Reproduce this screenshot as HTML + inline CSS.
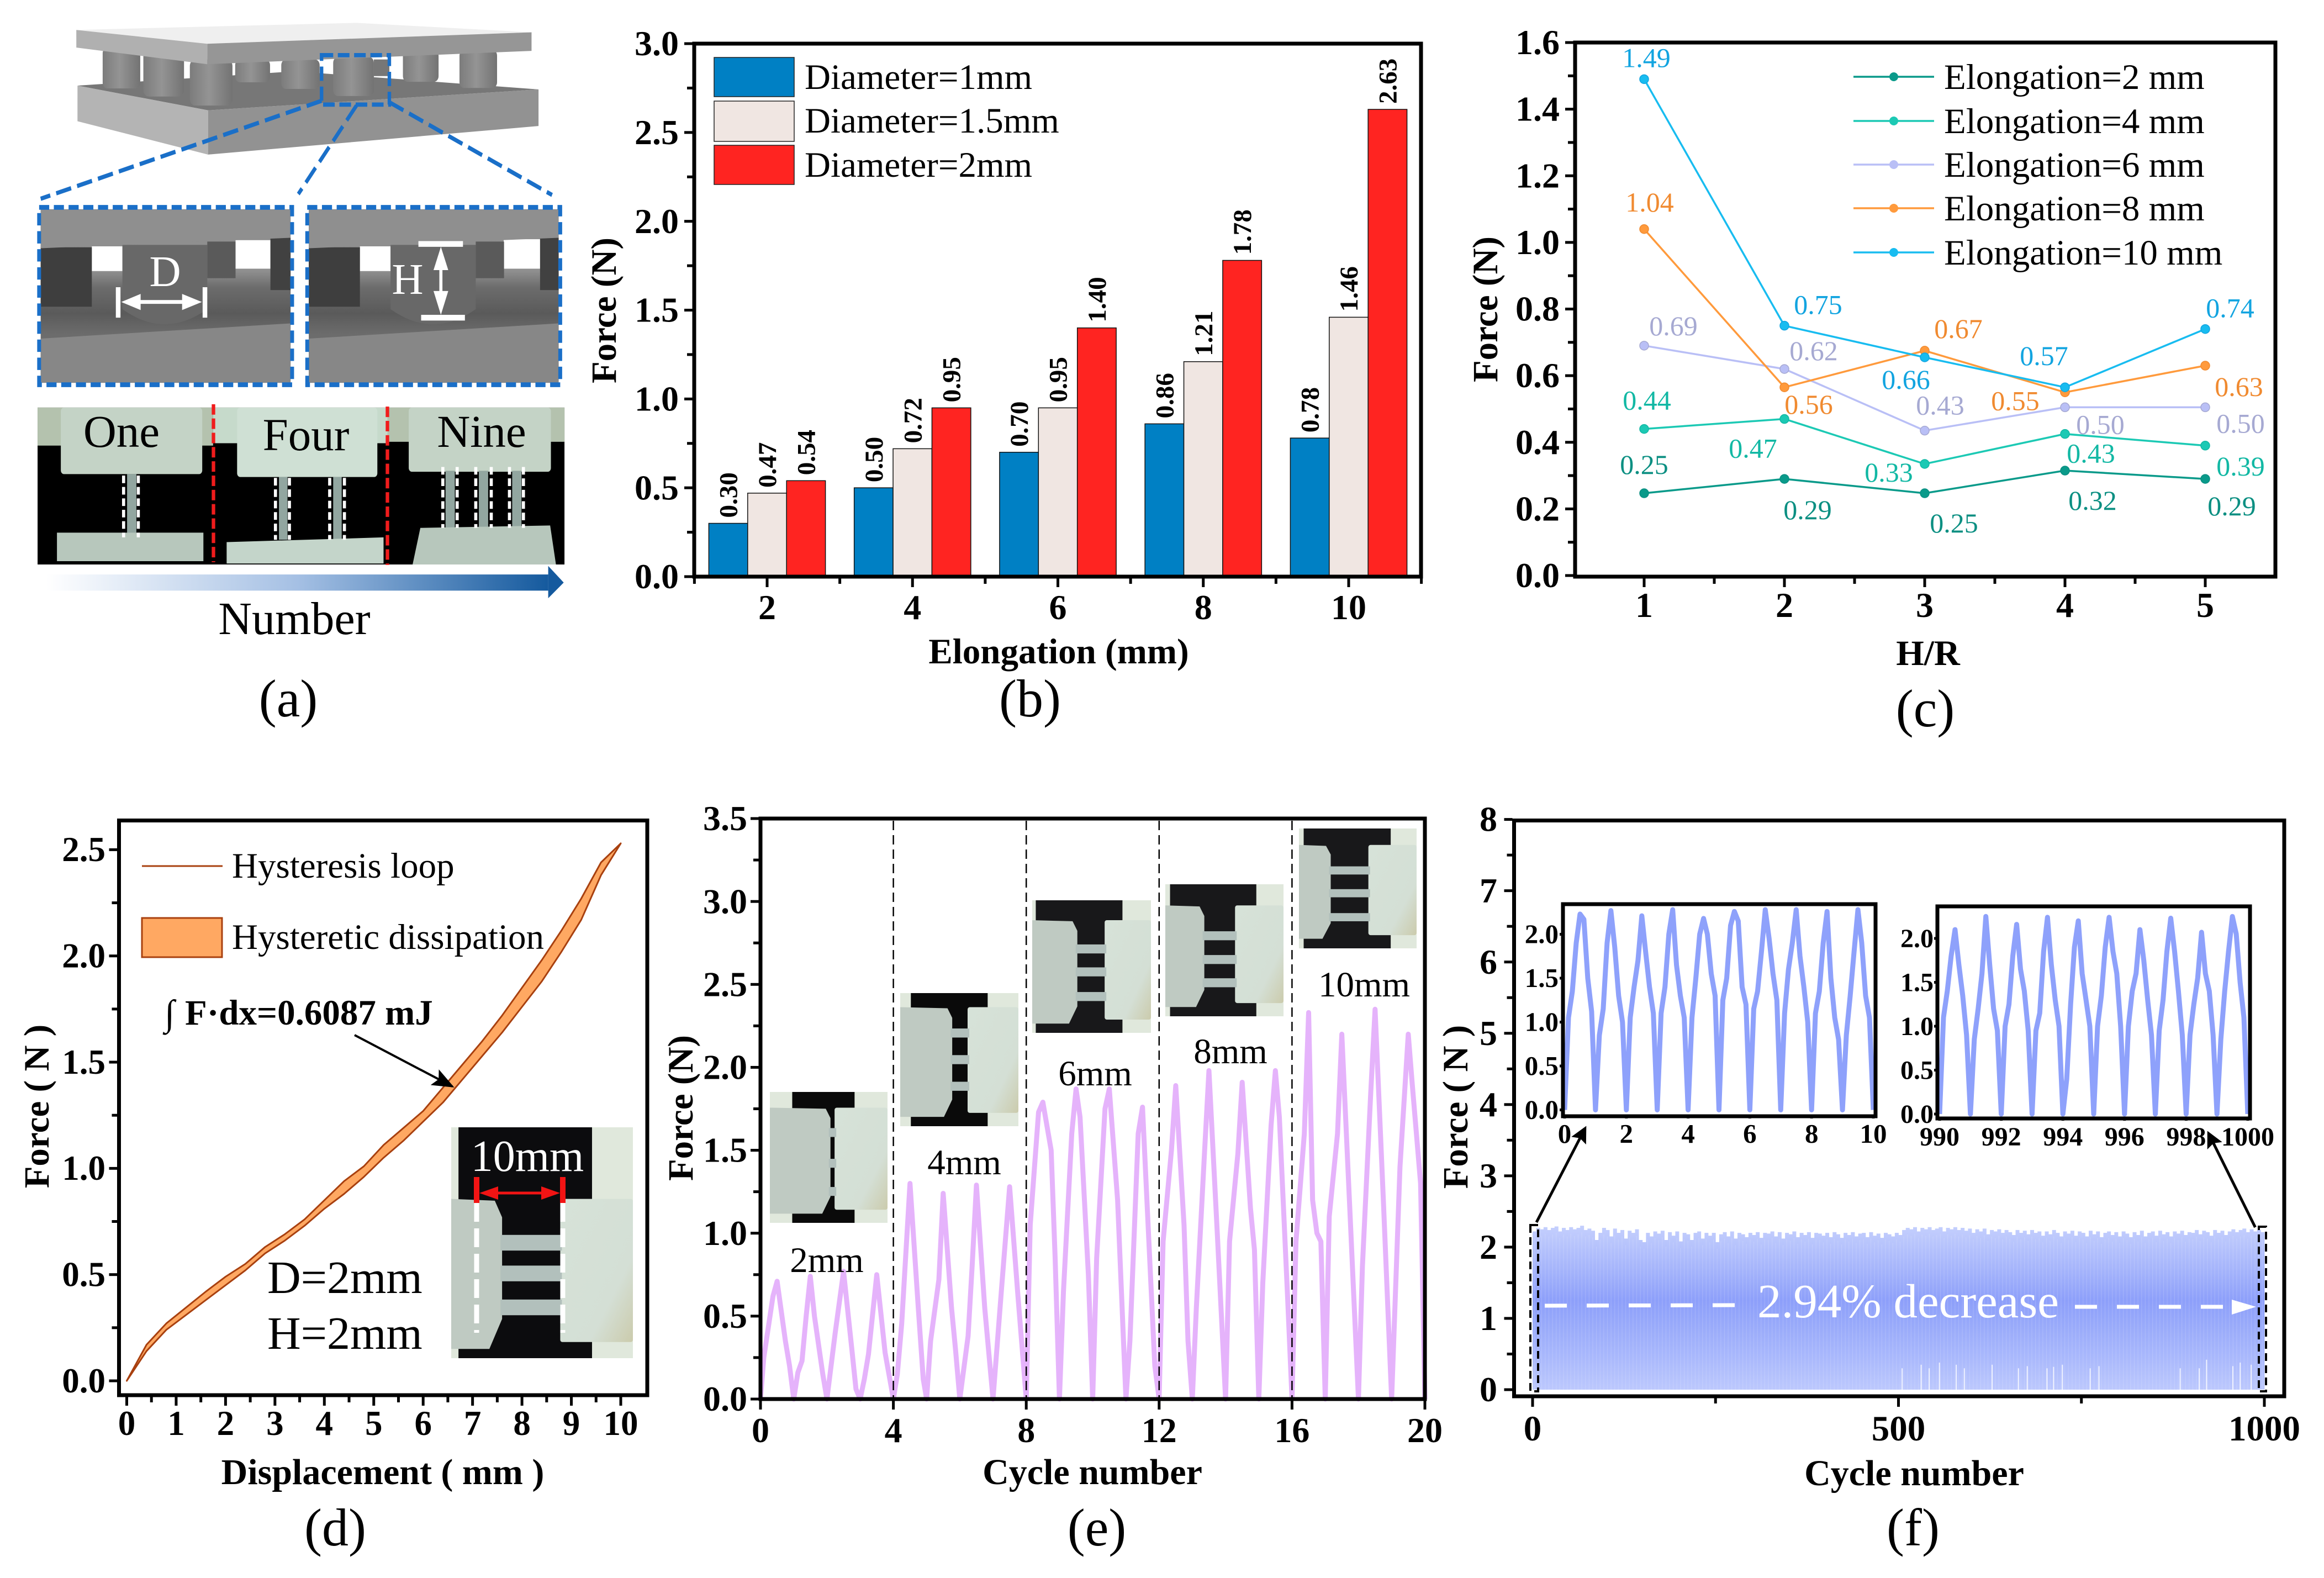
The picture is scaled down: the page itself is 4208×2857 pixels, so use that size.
<!DOCTYPE html>
<html lang="en">
<head>
<meta charset="utf-8">
<title>Force characterization figure</title>
<style>
html,body{margin:0;padding:0;background:#fff;}
svg{display:block;}
text{font-family:"Liberation Serif",serif;fill:#000;}
.b{font-weight:bold;}
</style>
</head>
<body>
<svg id="fig" xmlns="http://www.w3.org/2000/svg" width="4208" height="2857" viewBox="0 0 4208 2857">
<defs>
<marker id="ah" markerWidth="10" markerHeight="8" refX="9" refY="4" orient="auto"><path d="M0 0L10 4L0 8L2 4Z" fill="#000"/></marker>
<marker id="ahBig" markerWidth="6" markerHeight="6" refX="5" refY="3" orient="auto"><path d="M0 0L6 3L0 6L1 3Z" fill="#000"/></marker>
<linearGradient id="cyl" x1="0" x2="1" y1="0" y2="0"><stop offset="0" stop-color="#7c7c7c"/><stop offset=".45" stop-color="#949494"/><stop offset="1" stop-color="#737373"/></linearGradient>
<linearGradient id="dark" x1="0" x2="0" y1="0" y2="1"><stop offset="0" stop-color="#7c7c7c"/><stop offset="1" stop-color="#5e5e5e"/></linearGradient>
<linearGradient id="floor" x1="0" x2="0" y1="0" y2="1"><stop offset=".356" stop-color="#8f8f8f"/><stop offset=".45" stop-color="#6c6c6c"/><stop offset=".6" stop-color="#5a5a5a"/><stop offset=".72" stop-color="#6c6c6c"/></linearGradient>
<linearGradient id="numArrow" x1="0" x2="1" y1="0" y2="0"><stop offset="0" stop-color="#fff"/><stop offset=".5" stop-color="#a5c0e4"/><stop offset="1" stop-color="#155a9e"/></linearGradient>
<linearGradient id="bandGrad" gradientUnits="userSpaceOnUse" x1="0" x2="0" y1="2223" y2="2516">
<stop offset="0" stop-color="#c3cefd"/><stop offset=".25" stop-color="#a6b5fb"/><stop offset=".45" stop-color="#8d9ffa"/><stop offset=".62" stop-color="#9aabfa"/><stop offset=".8" stop-color="#a9b8fc"/><stop offset="1" stop-color="#bcc8fd"/>
</linearGradient>
<linearGradient id="blockR" x1="0" x2="1" y1="0" y2="1"><stop offset="0" stop-color="#d6e2d8"/><stop offset=".7" stop-color="#d4dfd5"/><stop offset="1" stop-color="#cbcbac"/></linearGradient>
</defs>

<!-- Panel a -->
<g>
 <g transform="scale(.7015,.861)">
  <polygon points="200,180 760,150 1390,188 537,232" fill="#777"/>
  <polygon points="200,180 537,232 537,325 200,255" fill="#b4b4b4"/>
  <polygon points="537,232 1390,188 1390,265 537,325" fill="#929292"/>
  <g fill="url(#cyl)">
   <rect x="607" y="125" width="90" height="48" rx="12"/><rect x="726" y="125" width="99" height="62" rx="12"/>
   <rect x="965" y="125" width="40" height="35" fill="#777"/><rect x="1040" y="105" width="92" height="67" rx="12"/>
   <rect x="1186" y="105" width="97" height="80" rx="12"/><rect x="860" y="120" width="105" height="82" rx="12"/>
   <rect x="265" y="100" width="97" height="86" rx="12"/><rect x="370" y="105" width="105" height="98" rx="14"/>
   <rect x="490" y="125" width="110" height="97" rx="14"/>
  </g>
  <polygon points="197,63 920,48 1372,68 535,92" fill="#efefef"/>
  <polygon points="197,63 535,92 535,135 197,100" fill="#b0b0b0"/>
  <polygon points="535,92 1372,68 1372,107 535,135" fill="#969696"/>
  <rect x="830" y="116" width="175" height="104" fill="none" stroke="#1a6fc8" stroke-width="9" stroke-dasharray="30 12"/>
  <g stroke="#1a6fc8" stroke-width="9" stroke-dasharray="40 16" fill="none">
   <line x1="830" y1="212" x2="105" y2="418"/><line x1="920" y1="222" x2="770" y2="408"/><line x1="1005" y1="215" x2="1425" y2="410"/>
  </g>
  <g>
   <rect x="105" y="440" width="645" height="365" fill="url(#floor)"/>
   <rect x="237" y="518" width="79" height="52" fill="#fff"/><rect x="608" y="505" width="90" height="60" fill="#fff"/>
   <rect x="105" y="520" width="132" height="125" fill="#3e3e3e"/><rect x="535" y="508" width="73" height="77" fill="#5a5a5a"/><rect x="698" y="500" width="52" height="110" fill="#414141"/>
   <path d="M316 515H535V650Q425 714 316 650Z" fill="#686868"/>
   <polygon points="105,440 750,440 750,500 105,522" fill="#8f8f8f"/><polygon points="105,712 750,680 750,805 105,805" fill="#878787"/>
   <rect x="101" y="436" width="653" height="373" fill="none" stroke="#1a6fc8" stroke-width="10" stroke-dasharray="26 12"/>
   <g stroke="#fff" stroke-width="12" fill="#fff"><line x1="305" y1="604" x2="305" y2="668"/><line x1="529" y1="604" x2="529" y2="668"/></g>
   <line x1="340" y1="635" x2="495" y2="635" stroke="#fff" stroke-width="8"/>
   <polygon points="313,635 363,618 363,652" fill="#fff"/><polygon points="521,635 470,618 470,652" fill="#fff"/>
  </g>
  <g>
   <rect x="797" y="440" width="645" height="365" fill="url(#floor)"/>
   <rect x="929" y="518" width="79" height="52" fill="#fff"/><rect x="1300" y="503" width="94" height="62" fill="#fff"/>
   <rect x="797" y="520" width="132" height="125" fill="#3e3e3e"/><rect x="1228" y="508" width="73" height="77" fill="#5a5a5a"/><rect x="1394" y="500" width="48" height="110" fill="#414141"/>
   <path d="M1008 515H1228V650Q1118 714 1008 650Z" fill="#686868"/>
   <polygon points="797,440 1442,440 1442,500 797,522" fill="#8f8f8f"/><polygon points="797,712 1442,680 1442,805 797,805" fill="#878787"/>
   <rect x="793" y="436" width="653" height="373" fill="none" stroke="#1a6fc8" stroke-width="10" stroke-dasharray="26 12"/>
   <g stroke="#fff" stroke-width="12"><line x1="1080" y1="513" x2="1195" y2="513"/><line x1="1087" y1="668" x2="1200" y2="668"/></g>
   <line x1="1138" y1="550" x2="1138" y2="630" stroke="#fff" stroke-width="8"/>
   <polygon points="1138,519 1119,568 1157,568" fill="#fff"/><polygon points="1138,662 1119,612 1157,612" fill="#fff"/>
  </g>
  <g>
   <rect x="97" y="857" width="1360" height="330" fill="#000"/>
   <rect x="97" y="857" width="453" height="80" fill="#b4c2ae"/><rect x="550" y="857" width="450" height="75" fill="#c6dacb"/><rect x="1000" y="857" width="457" height="72" fill="#b4c2ae"/>
   <rect x="157" y="857" width="365" height="140" rx="8" fill="#c4d3c6"/><rect x="612" y="857" width="362" height="146" rx="8" fill="#cfe0d4"/><rect x="1055" y="857" width="367" height="135" rx="8" fill="#c4d3c6"/>
   <rect x="328" y="997" width="24" height="130" fill="#92a6a0"/>
   <rect x="720" y="1003" width="22" height="132" fill="#92a6a0"/><rect x="860" y="1003" width="22" height="132" fill="#92a6a0"/>
   <rect x="1150" y="990" width="24" height="125" fill="#92a6a0"/><rect x="1236" y="990" width="24" height="125" fill="#92a6a0"/><rect x="1322" y="990" width="24" height="125" fill="#92a6a0"/>
   <path d="M147 1120L525 1120V1180H147Z" fill="#b7c7bc"/>
   <path d="M585 1140L990 1130V1185H585Z" fill="#c4d5ca"/>
   <path d="M1085 1110L1420 1105L1435 1187H1065Z" fill="#b7c7bc"/>
   <g stroke="#fff" stroke-width="8" stroke-dasharray="16 8" fill="none">
    <line x1="319" y1="1000" x2="319" y2="1130"/><line x1="357" y1="1000" x2="357" y2="1130"/>
    <line x1="711" y1="1005" x2="711" y2="1135"/><line x1="747" y1="1005" x2="747" y2="1135"/><line x1="851" y1="1005" x2="851" y2="1135"/><line x1="889" y1="1005" x2="889" y2="1135"/>
    <line x1="1143" y1="982" x2="1143" y2="1110"/><line x1="1180" y1="982" x2="1180" y2="1110"/><line x1="1228" y1="982" x2="1228" y2="1110"/><line x1="1268" y1="982" x2="1268" y2="1110"/><line x1="1315" y1="982" x2="1315" y2="1110"/><line x1="1351" y1="982" x2="1351" y2="1110"/>
   </g>
   <g stroke="#f01c1c" stroke-width="9" stroke-dasharray="22 8"><line x1="551" y1="850" x2="551" y2="1182"/><line x1="1000" y1="855" x2="1000" y2="1188"/></g>
  </g>
  <rect x="120" y="1208" width="1295" height="34" fill="url(#numArrow)"/>
  <polygon points="1415,1190 1455,1225 1415,1258" fill="#155a9e"/>
 </g>
 <text x="299" y="518" font-size="79" text-anchor="middle" style="fill:#fff">D</text>
 <text x="738" y="532" font-size="79" text-anchor="middle" style="fill:#fff">H</text>
 <text x="220" y="809" font-size="83" text-anchor="middle">One</text>
 <text x="554" y="815" font-size="83" text-anchor="middle">Four</text>
 <text x="872" y="809" font-size="83" text-anchor="middle">Nine</text>
 <text x="533" y="1148" font-size="84" text-anchor="middle">Number</text>
 <text x="522" y="1297" font-size="96" text-anchor="middle">(a)</text>
</g>

<!-- Panel titles and fixed text -->
<g>
 <text class="b" font-size="65" text-anchor="middle" transform="translate(1115,562) rotate(-90)">Force (N)</text>
 <text class="b" font-size="65" x="1917" y="1201" text-anchor="middle">Elongation (mm)</text>
 <text font-size="96" x="1865" y="1297" text-anchor="middle">(b)</text>
</g>
<g>
 <text class="b" font-size="65" text-anchor="middle" transform="translate(2711,560) rotate(-90)">Force (N)</text>
 <text class="b" font-size="65" x="3491" y="1204" text-anchor="middle">H/R</text>
 <text font-size="96" x="3486" y="1315" text-anchor="middle">(c)</text>
</g>
<g>
 <text class="b" font-size="65" text-anchor="middle" transform="translate(88,2003) rotate(-90)">Force ( N )</text>
 <text class="b" font-size="66" x="693" y="2687" text-anchor="middle">Displacement ( mm )</text>
 <text font-size="96" x="607" y="2798" text-anchor="middle">(d)</text>
</g>
<g>
 <text class="b" font-size="65" text-anchor="middle" transform="translate(1254,2006) rotate(-90)">Force (N)</text>
 <text class="b" font-size="66" x="1978" y="2687" text-anchor="middle">Cycle number</text>
 <text font-size="96" x="1986" y="2798" text-anchor="middle">(e)</text>
</g>
<g>
 <text class="b" font-size="65" text-anchor="middle" transform="translate(2657,2004) rotate(-90)">Force ( N )</text>
 <text class="b" font-size="66" x="3466" y="2689" text-anchor="middle">Cycle number</text>
 <text font-size="96" x="3464" y="2798" text-anchor="middle">(f)</text>
</g>
<g id="charts"></g>
</svg>

<script>
/* ---------- chart b data ---------- */
const barCategories = [2, 4, 6, 8, 10];
const barSeriesNames = ['Diameter=1mm', 'Diameter=1.5mm', 'Diameter=2mm'];
const barDiameter1 = [0.30, 0.50, 0.70, 0.86, 0.78];
const barDiameter15 = [0.47, 0.72, 0.95, 1.21, 1.46];
const barDiameter2 = [0.54, 0.95, 1.40, 1.78, 2.63];
const barYTicks = [0, 0.5, 1, 1.5, 2, 2.5, 3];

/* ---------- chart c data ---------- */
const lineCategories = [1, 2, 3, 4, 5];
const lineNames = ['Elongation=2 mm', 'Elongation=4 mm', 'Elongation=6 mm', 'Elongation=8 mm', 'Elongation=10 mm'];
const lineE2 = [0.247, 0.29, 0.247, 0.315, 0.29];
const lineE4 = [0.44, 0.47, 0.335, 0.425, 0.39];
const lineE6 = [0.69, 0.62, 0.435, 0.505, 0.505];
const lineE8 = [1.04, 0.565, 0.675, 0.55, 0.63];
const lineE10 = [1.49, 0.75, 0.655, 0.565, 0.74];
const printedE2 = ['0.25', '0.29', '0.25', '0.32', '0.29'];
const printedE4 = ['0.44', '0.47', '0.33', '0.43', '0.39'];
const printedE6 = ['0.69', '0.62', '0.43', '0.50', '0.50'];
const printedE8 = ['1.04', '0.56', '0.67', '0.55', '0.63'];
const printedE10 = ['1.49', '0.75', '0.66', '0.57', '0.74'];
const lineYTicks = [0, 0.2, 0.4, 0.6, 0.8, 1.0, 1.2, 1.4, 1.6];

/* ---------- chart d data ---------- */
const loopX = [0, 0.4, 0.8, 1.2, 1.6, 2, 2.4, 2.8, 3.2, 3.6, 4, 4.4, 4.8, 5.2, 5.6, 6, 6.4, 6.8, 7.2, 7.6, 8, 8.4, 8.8, 9.2, 9.6, 10];
const loopUpper = [0, 0.17, 0.27, 0.345, 0.42, 0.49, 0.55, 0.63, 0.69, 0.76, 0.85, 0.94, 1.01, 1.11, 1.19, 1.27, 1.38, 1.49, 1.6, 1.72, 1.85, 1.98, 2.12, 2.27, 2.44, 2.53];
const loopLower = [0, 0.14, 0.24, 0.31, 0.38, 0.45, 0.52, 0.60, 0.66, 0.73, 0.81, 0.88, 0.96, 1.05, 1.13, 1.22, 1.31, 1.42, 1.53, 1.64, 1.76, 1.88, 2.02, 2.17, 2.38, 2.53];
const loopXTicks = [0, 1, 2, 3, 4, 5, 6, 7, 8, 9, 10];
const loopYTicks = [0, 0.5, 1, 1.5, 2, 2.5];

/* ---------- chart e data ---------- */
const cycleX = [0,.1,.375,.5,.75,.875,1,1.125,1.25,1.375,1.5,1.625,1.875,2,2.25,2.5,2.75,2.875,3,3.125,3.25,3.5,3.75,4,
 4.12,4.25,4.5,4.75,4.9,5,5.12,5.37,5.5,5.75,5.87,6,6.25,6.37,6.5,6.75,7,7.25,7.5,7.75,8,
 8.12,8.37,8.5,8.75,8.87,9,9.12,9.37,9.5,9.62,9.87,10,10.12,10.37,10.5,10.75,11,11.12,11.37,11.5,11.75,11.87,12,
 12.12,12.37,12.5,12.75,12.87,13,13.12,13.37,13.5,13.75,14,14.12,14.37,14.5,14.75,14.87,15,15.12,15.37,15.5,15.62,15.87,16,
 16.12,16.37,16.5,16.62,16.75,16.87,17,17.12,17.37,17.5,17.75,18,18.12,18.37,18.5,18.75,19,19.25,19.5,19.62,19.87,20];
const cycleForce = [0,.25,.62,.71,.35,.2,0,.16,.23,.5,.74,.5,.15,0,.4,.77,.3,.06,0,.12,.27,.75,.28,0,
 .15,.45,1.3,.55,.12,0,.35,.72,1.24,.55,.3,0,.38,.8,1.29,.55,0,.65,1.28,.62,0,
 1.05,1.73,1.79,1.5,.85,0,.65,1.6,1.87,1.7,.75,0,.85,1.75,1.87,1.2,0,.35,1.6,1.76,.7,.2,0,
 .95,1.5,1.89,1.05,.35,0,.55,1.5,1.98,1.0,0,.95,1.48,1.91,1.15,.9,0,.7,1.65,1.98,1.7,.6,0,
 .95,1.6,2.33,1.2,1.0,.95,0,1.1,1.6,2.2,1.1,0,.8,1.85,2.35,1.2,0,1.4,2.2,1.9,1.3,0];
const cycleXTicks = [0, 4, 8, 12, 16, 20];
const cycleYTicks = [0, 0.5, 1, 1.5, 2, 2.5, 3, 3.5];
const stageBoundaries = [4, 8, 12, 16];

/* ---------- chart f data ---------- */
const fatigueBinCycles = 5;
const fatiguePeaks = [
2.22,2.27,2.25,2.28,2.24,2.27,2.29,2.22,2.27,2.24,2.28,2.25,2.27,2.3,2.24,2.26,2.23,2.1,2.2,2.27,
2.24,2.15,2.26,2.2,2.24,2.12,2.23,2.2,2.25,2.1,2.07,2.2,2.15,2.22,2.19,2.23,2.1,2.21,2.16,2.22,
2.08,2.2,2.18,2.1,2.2,2.22,2.12,2.2,2.16,2.2,2.07,2.18,2.21,2.15,2.22,2.12,2.2,2.18,2.14,2.2,
2.17,2.21,2.13,2.2,2.19,2.22,2.15,2.21,2.12,2.2,2.18,2.22,2.14,2.2,2.17,2.21,2.13,2.2,2.19,2.16,
2.2,2.14,2.21,2.18,2.13,2.2,2.17,2.21,2.15,2.19,2.2,2.14,2.21,2.16,2.19,2.13,2.2,2.18,2.15,2.2,
2.17,2.24,2.27,2.25,2.28,2.22,2.27,2.25,2.28,2.24,2.26,2.28,2.22,2.27,2.25,2.28,2.24,2.27,2.23,2.26,
2.2,2.25,2.22,2.26,2.18,2.24,2.22,2.25,2.2,2.24,2.21,2.17,2.24,2.2,2.23,2.18,2.24,2.2,2.22,2.16,
2.22,2.18,2.24,2.2,2.15,2.22,2.19,2.23,2.16,2.22,2.2,2.15,2.23,2.18,2.22,2.14,2.2,2.22,2.17,2.21,
2.15,2.22,2.19,2.14,2.21,2.17,2.23,2.15,2.2,2.22,2.16,2.23,2.18,2.21,2.15,2.22,2.19,2.23,2.17,2.21,
2.2,2.24,2.18,2.23,2.21,2.16,2.24,2.2,2.23,2.17,2.22,2.25,2.21,2.24,2.26,2.21,2.25,2.22,2.24,2.21];
const fatigueGapCycles = [505,531,542,556,579,590,628,664,676,703,712,724,762,774,885,911,921,957,967,982];
const fatigueGapTop = [.3,.35,.3,.38,.35,.3,.35,.3,.33,.3,.32,.35,.3,.33,.3,.3,.42,.33,.38,.35];
const fatigueXTicks = [0, 500, 1000];
const fatigueYTicks = [0, 1, 2, 3, 4, 5, 6, 7, 8];
const insetStartForce = [
0,1.05,1.35,1.9,2.23,2.17,1.5,1.12,
0,.85,1.15,1.9,2.27,1.85,1.3,1.0,
0,1.05,1.4,1.7,2.21,1.8,1.4,1.1,
0,1.1,1.4,2.0,2.28,1.65,1.3,1.05,
0,1.05,1.5,2.0,2.18,2.0,1.55,1.3,
0,1.25,1.5,2.1,2.26,2.15,1.4,1.2,
0,1.15,1.35,1.8,2.28,1.95,1.55,1.25,
0,1.1,1.6,1.9,2.28,1.75,1.4,1.0,
0,1.1,1.35,1.9,2.26,1.5,1.05,.8,
0,.85,1.3,1.8,2.28,1.9,1.3,1.05,0];
const insetEndForce = [
0,1.1,1.4,1.8,2.1,1.7,1.35,.9,
0,.85,1.2,1.6,2.25,1.7,1.2,.95,
0,1.0,1.25,1.8,2.16,1.65,1.4,.95,
0,.95,1.15,1.85,2.24,1.7,1.3,1.0,
0,.4,1.25,1.9,2.2,1.6,1.3,1.0,
0,1.0,1.35,1.9,2.24,1.85,1.6,1.0,
0,1.0,1.4,1.6,2.1,1.75,1.3,.9,
0,.95,1.3,1.85,2.23,1.85,1.4,.9,
0,.9,1.25,1.55,2.07,1.6,1.4,.9,
0,.85,1.4,1.85,2.25,2.05,1.5,1.1,0];
const insetStep = 0.125;
const insetStartXTicks = [0, 2, 4, 6, 8, 10];
const insetEndXTicks = [990, 992, 994, 996, 998, 1000];
const insetYTicks = [0, 0.5, 1, 1.5, 2];

/* ---------- helpers ---------- */
const NS = 'http://www.w3.org/2000/svg';
const root = document.getElementById('charts');
function make(parent, tag, attrs, text) {
  const el = document.createElementNS(NS, tag);
  for (const k in attrs) el.setAttribute(k, attrs[k]);
  if (text !== undefined) el.textContent = text;
  parent.appendChild(el);
  return el;
}
function named(el, name) {
  
  
  return el;
}
function group(parent, name) { return named(make(parent, 'g', {}), name); }
function linear(d0, d1, r0, r1) { return v => r0 + (v - d0) * (r1 - r0) / (d1 - d0); }
function range(a, b, s) { const o = []; for (let i = 0; a + i * s <= b + 1e-9; i++) o.push(a + i * s); return o; }

function drawFrame(g, prefix, box, sw) {
  named(make(g, 'rect', {x: box.l, y: box.t, width: box.r - box.l, height: box.b - box.t, fill: 'none', stroke: '#000', 'stroke-width': sw}), prefix + '-frame');
}
function drawYAxis(g, prefix, o) {
  const ax = group(g, prefix + '-y-axis');
  (o.minor || []).forEach(v => {
    named(make(ax, 'line', {x1: o.x, x2: o.x - 10, y1: o.y(v), y2: o.y(v), stroke: '#000', 'stroke-width': 5}), prefix + '-y-minor-tick');
  });
  o.ticks.forEach(v => {
    named(make(ax, 'line', {x1: o.x, x2: o.x - (o.len || 15), y1: o.y(v), y2: o.y(v), stroke: '#000', 'stroke-width': 5}), prefix + '-y-tick');
    named(make(ax, 'text', {x: o.labelX, y: o.y(v) + o.size * 0.33, 'font-size': o.size, 'text-anchor': 'end', 'font-weight': 'bold'}, o.fmt(v)), prefix + '-y-tick-label');
  });
}
function drawXAxis(g, prefix, o) {
  const ax = group(g, prefix + '-x-axis');
  (o.minor || []).forEach(v => {
    named(make(ax, 'line', {x1: o.x(v), x2: o.x(v), y1: o.y, y2: o.y + 10, stroke: '#000', 'stroke-width': 5}), prefix + '-x-minor-tick');
  });
  o.ticks.forEach(v => {
    named(make(ax, 'line', {x1: o.x(v), x2: o.x(v), y1: o.y, y2: o.y + (o.len || 16), stroke: '#000', 'stroke-width': 5}), prefix + '-x-tick');
    named(make(ax, 'text', {x: o.x(v), y: o.labelY, 'font-size': o.size, 'text-anchor': 'middle', 'font-weight': 'bold'}, String(v)), prefix + '-x-tick-label');
  });
}
function toPoints(xs, ys, fx, fy) { return xs.map((v, i) => fx(v).toFixed(1) + ',' + fy(ys[i]).toFixed(1)).join(' '); }

function drawPhoto(parent, name, x, y, w, h, p) {
  const g = group(parent, name);
  make(g, 'rect', {x: x, y: y, width: w, height: h, fill: '#e0e8dc'});
  const bx0 = x + w * (p.blackL || 0.04), bx1 = x + w * (p.blackR || 0.76);
  make(g, 'rect', {x: bx0, y: y, width: bx1 - bx0, height: h, fill: p.black || '#141416'});
  const lx = x + w * p.leftEnd, rx = x + w * p.rightStart;
  const yT = y + h * p.top, yB = y + h * p.bottom;
  make(g, 'path', {d: 'M' + x + ' ' + yT + 'L' + (lx - w * 0.04) + ' ' + (yT + h * 0.008) + 'L' + lx + ' ' + (yT + h * 0.08) + 'L' + lx + ' ' + (yB - h * 0.13) + 'L' + (lx - w * 0.07) + ' ' + yB + 'L' + x + ' ' + yB + 'Z', fill: '#bfcac2'});
  make(g, 'rect', {x: rx, y: yT, width: x + w - rx, height: h * (p.bottom - 0.03 - p.top), rx: 4, fill: 'url(#blockR)'});
  p.struts.forEach(s => {
    make(g, 'rect', {x: lx - 3, y: y + h * (s - 0.034), width: rx - lx + 6, height: h * 0.068, fill: '#b2c0bc'});
  });
  return g;
}

/* ---------- chart b ---------- */
(function () {
  const g = group(root, 'panel-b');
  const box = {l: 1257, r: 2573, t: 79, b: 1044};
  const x = linear(2, 10, 1389, 2442), y = linear(0, 3, 1044, 79);
  const bw = 70.4;
  const series = [barDiameter1, barDiameter15, barDiameter2];
  const colors = ['#0080c4', '#f0e6e2', '#ff2421'];
  series.forEach((vals, s) => {
    const sg = group(g, 'series-' + barSeriesNames[s].toLowerCase().replace(/[^a-z0-9]+/g, '-'));
    vals.forEach((v, i) => {
      const cx = x(barCategories[i]) + (s - 1) * bw;
      named(make(sg, 'rect', {x: cx - bw / 2, y: y(v), width: bw, height: y(0) - y(v) - 2, fill: colors[s], stroke: '#111', 'stroke-width': 1.5}), 'bar');
      named(make(sg, 'text', {'font-size': 47, 'font-weight': 'bold', transform: 'translate(' + (cx + 16) + ',' + (y(v) - 10) + ') rotate(-90)'}, v.toFixed(2)), 'bar-value-label');
    });
  });
  drawFrame(g, 'b', box, 7);
  drawYAxis(g, 'b', {x: box.l - 3, y: y, ticks: barYTicks, minor: range(0.25, 2.75, 0.5), labelX: 1229, size: 64, fmt: v => v.toFixed(1)});
  drawXAxis(g, 'b', {x: x, y: box.b + 3, ticks: barCategories, minor: [1, 3, 5, 7, 9, 11], labelY: 1121, size: 64});
  const leg = group(g, 'b-legend');
  const ly = [104, 183, 263], lh = [71, 73, 71];
  barSeriesNames.forEach((n, i) => {
    named(make(leg, 'rect', {x: 1293, y: ly[i], width: 145, height: lh[i], fill: colors[i], stroke: '#222', 'stroke-width': 1.5}), 'legend-swatch');
    named(make(leg, 'text', {x: 1457, y: ly[i] + 57, 'font-size': 65}, n), 'legend-entry');
  });
})();

/* ---------- chart c ---------- */
(function () {
  const g = group(root, 'panel-c');
  const box = {l: 2852, r: 4120, t: 77, b: 1044};
  const x = linear(1, 5, 2977, 3993), y = linear(0, 1.6, 1042, 77);
  const series = [lineE2, lineE4, lineE6, lineE8, lineE10];
  const printed = [printedE2, printedE4, printedE6, printedE8, printedE10];
  const colors = ['#0a9a8a', '#1cc9b4', '#b9bff6', '#ff9a3c', '#18bcf0'];
  const labelColors = ['#0b8f82', '#12b8a4', '#a6a9d2', '#f08a30', '#12a4e0'];
  const offsets = [
    [[0,-52],[42,56],[53,54],[50,54],[48,49]],
    [[5,-52],[-57,53],[-65,15],[47,35],[64,37]],
    [[53,-36],[53,-33],[28,-46],[64,31],[64,29]],
    [[10,-49],[44,31],[61,-40],[-90,15],[61,38]],
    [[4,-39],[61,-38],[-34,40],[-38,-57],[45,-38]]
  ];
  series.forEach((vals, s) => {
    const sg = group(g, 'series-elongation-' + (s + 1) * 2 + 'mm');
    named(make(sg, 'polyline', {points: toPoints(lineCategories, vals, x, y), fill: 'none', stroke: colors[s], 'stroke-width': 3.5}), 'series-line');
    vals.forEach((v, i) => {
      named(make(sg, 'circle', {cx: x(lineCategories[i]), cy: y(v), r: 8, fill: colors[s], stroke: labelColors[s], 'stroke-width': 1.5}), 'series-point');
      const off = offsets[s][i];
      named(make(sg, 'text', {x: x(lineCategories[i]) + off[0], y: y(v) + off[1] + 17, 'font-size': 50, 'text-anchor': 'middle', style: 'fill:' + labelColors[s]}, printed[s][i]), 'point-value-label');
    });
  });
  drawFrame(g, 'c', box, 7);
  drawYAxis(g, 'c', {x: box.l - 3, y: y, ticks: lineYTicks, minor: range(0.1, 1.5, 0.2), labelX: 2824, size: 64, fmt: v => v.toFixed(1)});
  drawXAxis(g, 'c', {x: x, y: box.b + 3, ticks: lineCategories, minor: [1.5, 2.5, 3.5, 4.5], labelY: 1117, size: 64});
  const leg = group(g, 'c-legend');
  const ly = [139, 219, 298, 377, 457];
  lineNames.forEach((n, i) => {
    named(make(leg, 'line', {x1: 3356, x2: 3502, y1: ly[i], y2: ly[i], stroke: colors[i], 'stroke-width': 3.5}), 'legend-line');
    named(make(leg, 'circle', {cx: 3429, cy: ly[i], r: 8, fill: colors[i]}), 'legend-marker');
    named(make(leg, 'text', {x: 3520, y: ly[i] + 22, 'font-size': 65}, n), 'legend-entry');
  });
})();

/* ---------- chart d ---------- */
(function () {
  const g = group(root, 'panel-d');
  const box = {l: 215.5, r: 1172, t: 1485.5, b: 2526};
  const x = linear(0, 10, 229.5, 1124), y = linear(0, 2.5, 2500, 1538.4);
  const up = toPoints(loopX, loopUpper, x, y);
  const low = toPoints(loopX.slice().reverse(), loopLower.slice().reverse(), x, y);
  named(make(g, 'polygon', {points: up + ' ' + low, fill: '#ffa862', stroke: '#a8400f', 'stroke-width': 3, 'stroke-linejoin': 'round'}), 'hysteresis-loop');
  drawFrame(g, 'd', box, 7);
  drawYAxis(g, 'd', {x: box.l - 3, y: y, ticks: loopYTicks, minor: range(0.25, 2.25, 0.5), labelX: 191, size: 63, fmt: v => v.toFixed(1)});
  drawXAxis(g, 'd', {x: x, y: box.b + 3, ticks: loopXTicks, minor: range(0.5, 9.5, 1), labelY: 2598, size: 63});
  const leg = group(g, 'd-legend');
  named(make(leg, 'line', {x1: 257, x2: 403, y1: 1568, y2: 1568, stroke: '#a8400f', 'stroke-width': 3}), 'legend-line');
  named(make(leg, 'text', {x: 420, y: 1589, 'font-size': 65}, 'Hysteresis loop'), 'legend-entry');
  named(make(leg, 'rect', {x: 257, y: 1662, width: 145, height: 71, fill: '#ffa862', stroke: '#a8400f', 'stroke-width': 3}), 'legend-swatch');
  named(make(leg, 'text', {x: 420, y: 1718, 'font-size': 65}, 'Hysteretic dissipation'), 'legend-entry');
  named(make(g, 'text', {x: 298, y: 1856, 'font-size': 66}, '\u222B'), 'integral-sign');
  named(make(g, 'text', {x: 335, y: 1855, 'font-size': 65, 'font-weight': 'bold'}, 'F\u00B7dx=0.6087 mJ'), 'energy-annotation');
  named(make(g, 'line', {x1: 642, y1: 1874, x2: 819, y2: 1967, stroke: '#000', 'stroke-width': 4, 'marker-end': 'url(#ah)'}), 'energy-arrow');
  drawPhoto(g, 'd-specimen-photo', 817, 2041, 329, 418, {leftEnd: .28, rightStart: .6, top: .31, bottom: .96, struts: [.5, .633, .78], blackL: 0, blackR: .775, black: '#0c0c0e'});
  const p = group(g, 'd-photo-annotation');
  named(make(p, 'text', {x: 955, y: 2120, 'font-size': 80, 'text-anchor': 'middle', style: 'fill:#fff'}, '10mm'), 'elongation-label');
  named(make(p, 'rect', {x: 858, y: 2131, width: 10, height: 47, fill: '#f21414'}), 'left-red-bar');
  named(make(p, 'rect', {x: 1014, y: 2131, width: 10, height: 47, fill: '#f21414'}), 'right-red-bar');
  named(make(p, 'line', {x1: 885, x2: 995, y1: 2160, y2: 2160, stroke: '#f21414', 'stroke-width': 5}), 'red-dimension-line');
  named(make(p, 'polygon', {points: '868,2160 902,2148 902,2172', fill: '#f21414'}), 'red-arrow-left');
  named(make(p, 'polygon', {points: '1014,2160 980,2148 980,2172', fill: '#f21414'}), 'red-arrow-right');
  named(make(p, 'line', {x1: 863, x2: 863, y1: 2178, y2: 2413, stroke: '#fff', 'stroke-width': 9, 'stroke-dasharray': '34 12'}), 'left-white-dash');
  named(make(p, 'line', {x1: 1019, x2: 1019, y1: 2178, y2: 2413, stroke: '#fff', 'stroke-width': 9, 'stroke-dasharray': '34 12'}), 'right-white-dash');
  named(make(g, 'text', {x: 484, y: 2341, 'font-size': 84}, 'D=2mm'), 'diameter-note');
  named(make(g, 'text', {x: 484, y: 2442, 'font-size': 84}, 'H=2mm'), 'height-note');
})();

/* ---------- chart e ---------- */
(function () {
  const g = group(root, 'panel-e');
  const box = {l: 1377, r: 2580, t: 1482, b: 2533};
  const x = linear(0, 20, 1377, 2580), y = linear(0, 3.5, 2533, 1482);
  named(make(g, 'polyline', {points: toPoints(cycleX, cycleForce, x, y), fill: 'none', stroke: '#e5b3fb', 'stroke-width': 9, 'stroke-linejoin': 'round'}), 'cyclic-force-line');
  stageBoundaries.forEach(v => {
    named(make(g, 'line', {x1: x(v), x2: x(v), y1: 1486, y2: 2530, stroke: '#000', 'stroke-width': 2.5, 'stroke-dasharray': '17 9'}), 'stage-divider');
  });
  const photos = [
    ['photo-2mm', 1394, 1977, 213, 237, {leftEnd: .515, rightStart: .55, top: .12, bottom: .93, struts: [.31, .545, .76], blackL: .19, blackR: .72, black: '#0a0a0a'}],
    ['photo-4mm', 1630, 1798, 214, 241, {leftEnd: .44, rightStart: .57, top: .106, bottom: .93, struts: [.30, .50, .70], blackL: .09, blackR: .74, black: '#0a0a0a'}],
    ['photo-6mm', 1869, 1630, 215, 240, {leftEnd: .38, rightStart: .61, top: .15, bottom: .93, struts: [.367, .54, .726], blackL: .03, blackR: .76, black: '#18181a'}],
    ['photo-8mm', 2110, 1601, 214, 239, {leftEnd: .33, rightStart: .59, top: .16, bottom: .93, struts: [.39, .57, .746], blackL: 0, blackR: .77, black: '#18181a'}],
    ['photo-10mm', 2352, 1500, 213, 217, {leftEnd: .27, rightStart: .59, top: .137, bottom: .92, struts: [.35, .54, .74], blackL: 0, blackR: .78, black: '#18181a'}]
  ];
  photos.forEach(p => drawPhoto(g, p[0], p[1], p[2], p[3], p[4], p[5]));
  const stageLabels = [['2mm', 1497, 2303], ['4mm', 1746, 2126], ['6mm', 1983, 1965], ['8mm', 2228, 1925], ['10mm', 2470, 1804]];
  stageLabels.forEach(s => {
    named(make(g, 'text', {x: s[1], y: s[2], 'font-size': 65, 'text-anchor': 'middle'}, s[0]), 'stage-label');
  });
  drawFrame(g, 'e', box, 7);
  drawYAxis(g, 'e', {x: box.l - 3, y: y, ticks: cycleYTicks, minor: range(0.25, 3.25, 0.5), labelX: 1353, size: 64, fmt: v => v.toFixed(1)});
  drawXAxis(g, 'e', {x: x, y: box.b + 3, ticks: cycleXTicks, minor: [], labelY: 2611, size: 64});
})();

/* ---------- chart f ---------- */
(function () {
  const g = group(root, 'panel-f');
  const box = {l: 2741.5, r: 4136, t: 1485.5, b: 2528};
  const x = linear(0, 1000, 2775, 4100), y = linear(0, 8, 2516, 1483.6);
  const band = group(g, 'fatigue-band');
  fatiguePeaks.forEach((v, i) => {
    const x0 = x(i * fatigueBinCycles), x1 = x((i + 1) * fatigueBinCycles);
    named(make(band, 'rect', {x: x0, y: y(v), width: x1 - x0 + 0.4, height: y(0) - y(v), fill: 'url(#bandGrad)'}), 'fatigue-cycle-bin');
    named(make(band, 'line', {x1: x0 + 3, x2: x0 + 3, y1: y(v) + 12, y2: y(0), stroke: '#fff', 'stroke-width': 1.2, opacity: 0.15}), 'fatigue-cycle-texture');
  });
  fatigueGapCycles.forEach((c, i) => {
    named(make(band, 'line', {x1: x(c), x2: x(c), y1: y(fatigueGapTop[i]), y2: y(0), stroke: '#fff', 'stroke-width': 2, opacity: 0.8}), 'fatigue-low-gap');
  });
  drawFrame(g, 'f', box, 7);
  drawYAxis(g, 'f', {x: box.l - 3, y: y, ticks: fatigueYTicks, minor: range(0.5, 7.5, 1), labelX: 2711, size: 64, fmt: v => String(v)});
  drawXAxis(g, 'f', {x: x, y: box.b + 3, ticks: fatigueXTicks, minor: [250, 750], labelY: 2608, size: 65});
  named(make(g, 'rect', {x: 2771, y: 2218, width: 14, height: 301, fill: 'none', stroke: '#000', 'stroke-width': 4, 'stroke-dasharray': '14 8'}), 'start-window');
  named(make(g, 'rect', {x: 4090, y: 2221, width: 13, height: 298, fill: 'none', stroke: '#000', 'stroke-width': 4, 'stroke-dasharray': '14 8'}), 'end-window');
  named(make(g, 'line', {x1: 2782, y1: 2213, x2: 2870, y2: 2043, stroke: '#000', 'stroke-width': 5, 'marker-end': 'url(#ahBig)'}), 'start-zoom-arrow');
  named(make(g, 'line', {x1: 4083.5, y1: 2222, x2: 3999, y2: 2052, stroke: '#000', 'stroke-width': 5, 'marker-end': 'url(#ahBig)'}), 'end-zoom-arrow');
  const ann = group(g, 'decrease-annotation');
  named(make(ann, 'line', {x1: 2797, x2: 3142, y1: 2364, y2: 2363, stroke: '#fff', 'stroke-width': 7, 'stroke-dasharray': '40 36'}), 'decrease-dash-left');
  named(make(ann, 'line', {x1: 3757, x2: 4038, y1: 2366, y2: 2366, stroke: '#fff', 'stroke-width': 7, 'stroke-dasharray': '40 36'}), 'decrease-dash-right');
  named(make(ann, 'polygon', {points: '4041,2353 4085,2366 4041,2380', fill: '#fff'}), 'decrease-arrowhead');
  named(make(ann, 'text', {x: 3182, y: 2385, 'font-size': 87, style: 'fill:#fff'}, '2.94% decrease'), 'decrease-label');

  function inset(name, fr, xs, vals, x0, x1, yZero, tks, labelX, labelY, size) {
    const ig = group(g, name);
    const fx = linear(xs[0], xs[xs.length - 1], x0, x1);
    const fy = linear(0, 1, yZero, yZero - 159);
    make(ig, 'rect', {x: fr.l, y: fr.t, width: fr.r - fr.l, height: fr.b - fr.t, fill: '#fff'});
    const px = vals.map((_, i) => xs[0] + i * insetStep);
    named(make(ig, 'polyline', {points: toPoints(px, vals, fx, fy), fill: 'none', stroke: '#8ea1fb', 'stroke-width': 9, 'stroke-linejoin': 'round'}), name + '-line');
    drawFrame(ig, name, fr, 7);
    drawYAxis(ig, name, {x: fr.l, y: fy, ticks: insetYTicks, labelX: labelX, size: size, len: 6, fmt: v => v.toFixed(1)});
    drawXAxis(ig, name, {x: fx, y: fr.b, ticks: xs, labelY: labelY, size: size, len: 4});
  }
  inset('inset-first-cycles', {l: 2830, r: 3396, t: 1637, b: 2021}, insetStartXTicks, insetStartForce, 2833, 3392, 2009.5, null, 2822, 2069, 49);
  inset('inset-last-cycles', {l: 3508, r: 4074, t: 1641, b: 2025}, insetEndXTicks, insetEndForce, 3512, 4070, 2017, null, 3501, 2074, 48);
})();
</script>
</body>
</html>
